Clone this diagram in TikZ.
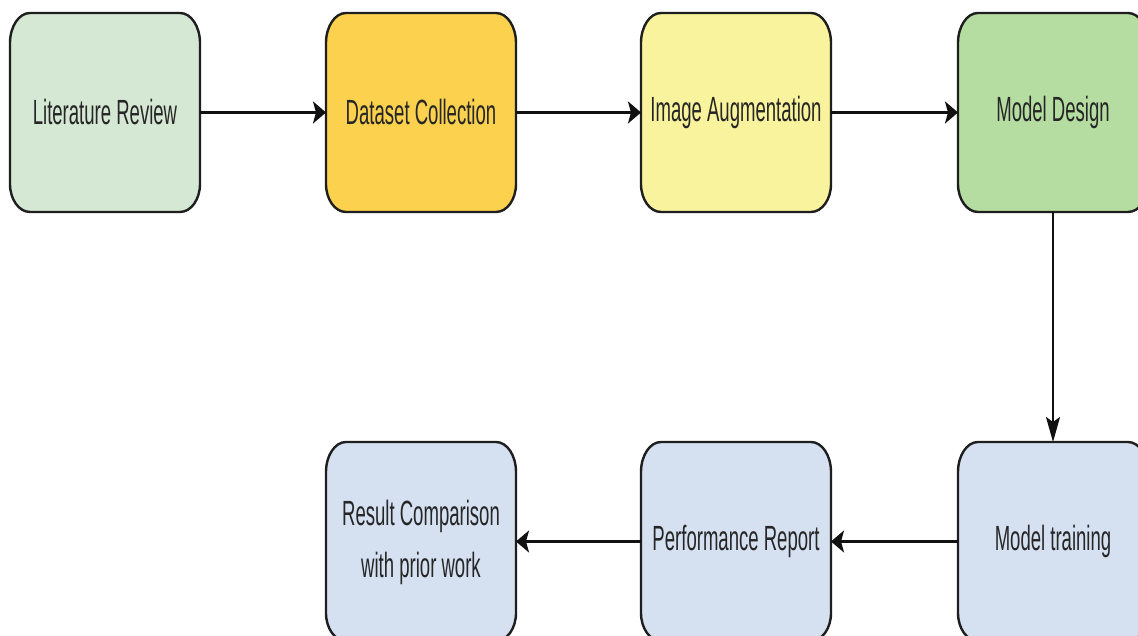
\documentclass[tikz,border=0pt]{standalone}
\usepackage{fontspec}
\setmainfont{Liberation Sans}
\usetikzlibrary{arrows.meta,backgrounds}

\definecolor{edge}{HTML}{1E1E1E}
\definecolor{wire}{HTML}{111111}
\definecolor{txt}{HTML}{262626}
\definecolor{litgreen}{HTML}{D5E8D4}
\definecolor{dataorange}{HTML}{FBD14E}
\definecolor{augyellow}{HTML}{F8F39C}
\definecolor{designgreen}{HTML}{B5DDA1}
\definecolor{stageblue}{HTML}{D5E0F1}

% condensed lettering
\newcommand\narrow[1]{\scalebox{0.53}[1]{#1}}

% rounded outline with elliptic corners around a named stage node
\newcommand\stageoutline[2]{%
  \path[outline, fill=#2]
    ([yshift=28pt]#1.south west) -- ([yshift=-30pt]#1.north west)
    arc[start angle=180, end angle=90, x radius=20pt, y radius=30pt]
    -- ([xshift=-20pt]#1.north east)
    arc[start angle=90, end angle=0, x radius=20pt, y radius=30pt]
    -- ([yshift=28pt]#1.south east)
    arc[start angle=0, end angle=-90, x radius=20pt, y radius=28pt]
    -- ([xshift=20pt]#1.south west)
    arc[start angle=270, end angle=180, x radius=20pt, y radius=28pt]
    -- cycle;}

\begin{document}
\begin{tikzpicture}[x=1pt, y=1pt,
  stage/.style={minimum width=190pt, minimum height=199pt, inner sep=0pt,
    outer sep=0pt, text=txt, font=\fontsize{35}{52}\selectfont},
  outline/.style={draw=edge, line width=2.4pt},
  flow/.style={draw=wire, line width=2.8pt,
    -{Stealth[length=13pt, width=22pt, inset=3pt]}},
  drop/.style={draw=wire, line width=2pt,
    -{Stealth[length=25pt, width=14pt, inset=5pt]}}]
\useasboundingbox (0,0) rectangle (1138,636);

% top row
\node[stage] (lit)    at (105,523.5)  {\narrow{Literature Review}};
\node[stage] (data)   at (421,523.5)  {\narrow{Dataset Collection}};
\node[stage] (aug)    at (736,523.5)  {\narrow{Image Augmentation}};
\node[stage] (design) at (1053,523.5) {\narrow{Model Design}};

% bottom row
\node[stage] (result) at (421,94.5)  {\narrow{\begin{tabular}{@{}c@{}}Result Comparison\\with prior work\end{tabular}}};
\node[stage] (perf)   at (736,94.5)  {\narrow{Performance Report}};
\node[stage] (train)  at (1053,94.5) {\narrow{Model training}};

\begin{scope}[on background layer]
  \fill[white] (0,0) rectangle (1138,636);
  \clip (0,0) rectangle (1138,636);
  \stageoutline{lit}{litgreen}
  \stageoutline{data}{dataorange}
  \stageoutline{aug}{augyellow}
  \stageoutline{design}{designgreen}
  \stageoutline{result}{stageblue}
  \stageoutline{perf}{stageblue}
  \stageoutline{train}{stageblue}
\end{scope}

% connectors
\draw[flow] (lit) -- (data);
\draw[flow] (data) -- (aug);
\draw[flow] (aug) -- (design);
\draw[drop] (design) -- (train);
\draw[flow] (train) -- (perf);
\draw[flow] (perf) -- (result);
\end{tikzpicture}
\end{document}
